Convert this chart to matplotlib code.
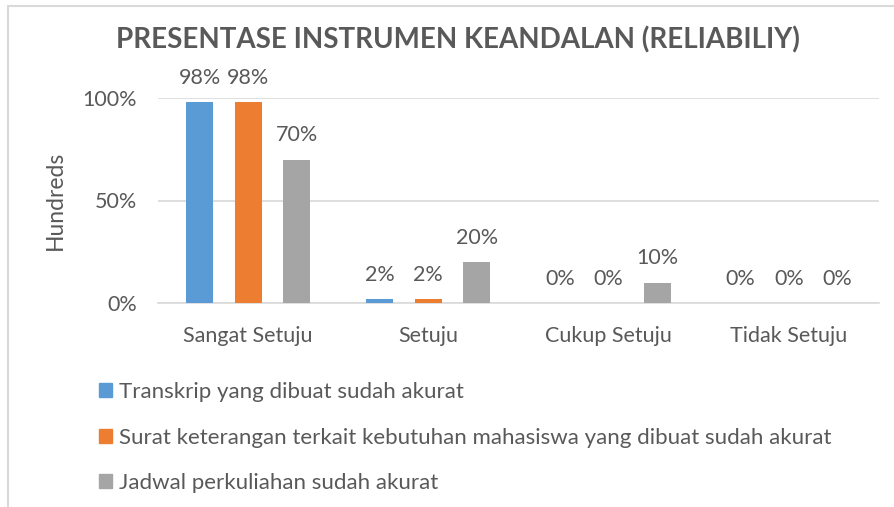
import numpy as np
import matplotlib
matplotlib.use("Agg")
import matplotlib.pyplot as plt
from matplotlib.patches import Patch, Rectangle

categories = ["Sangat Setuju", "Setuju", "Cukup Setuju", "Tidak Setuju"]
series_names = [
    "Transkrip yang dibuat sudah akurat",
    "Surat keterangan terkait kebutuhan mahasiswa yang dibuat sudah akurat",
    "Jadwal perkuliahan sudah akurat",
]
transkrip = [98, 2, 0, 0]
surat = [98, 2, 0, 0]
jadwal = [70, 20, 10, 0]
yticks = [0, 50, 100]

colors = ["#5B9BD5", "#ED7D31", "#A5A5A5"]
text_col = "#595959"

plt.rcParams['font.family'] = ['Lato', 'DejaVu Sans']

fig = plt.figure(figsize=(8.95, 5.07), dpi=100)
W, H = 895, 507
ax = fig.add_axes([158 / W, (H - 303) / H, (879 - 158) / W, 205 / H])

# chart border (cropped on the right and bottom)
fig.add_artist(Rectangle((8 / W, -0.1), 1.2, (H - 6) / H + 0.1,
                         transform=fig.transFigure, fill=False,
                         edgecolor="#D9D9D9", lw=1.5))

x = np.arange(len(categories))
offsets = [-0.269, 0, 0.269]
width = 0.15
for vals, off, c, name in zip([transkrip, surat, jadwal], offsets, colors, series_names):
    bars = ax.bar(x + off, vals, width, color=c, label=name, zorder=3)
    for b, v in zip(bars, vals):
        ax.annotate("%d%%" % v, (b.get_x() + b.get_width() / 2, v),
                    xytext=(0, 17.5), textcoords="offset points",
                    ha="center", va="center", fontsize=15.5,
                    color=text_col, annotation_clip=False)

ax.set_xlim(-0.5, len(categories) - 0.5)
ax.set_ylim(0, 100)
ax.set_yticks(yticks)
ax.set_yticklabels(["%d%%" % t for t in yticks])
ax.set_xticks(x)
ax.set_xticklabels(categories)
ax.grid(axis="y", color="#D9D9D9", lw=1.2, zorder=0)
for s in ["top", "right", "left"]:
    ax.spines[s].set_visible(False)
ax.spines["bottom"].set_color("#D9D9D9")
ax.spines["bottom"].set_linewidth(1.2)
ax.tick_params(axis="both", length=0, labelsize=15.5, labelcolor=text_col)
ax.tick_params(axis="x", pad=16.5)
ax.tick_params(axis="y", pad=15)
ax.set_ylabel("Hundreds", fontsize=16.5, color=text_col, labelpad=12)

fig.text(458 / W, 1 - 40 / H, "PRESENTASE INSTRUMEN KEANDALAN (RELIABILIY)",
         ha="center", va="center", fontsize=20, fontweight="bold", color=text_col)

handles = [Patch(color=c) for c in colors]
fig.legend(handles, series_names, loc="upper left",
           bbox_to_anchor=(79 / W, 1 - 362 / H), frameon=False,
           fontsize=16, labelcolor=text_col, handlelength=0.6,
           handleheight=0.6, handletextpad=0.3, labelspacing=1.15)

fig.savefig("out.png", dpi=100)
